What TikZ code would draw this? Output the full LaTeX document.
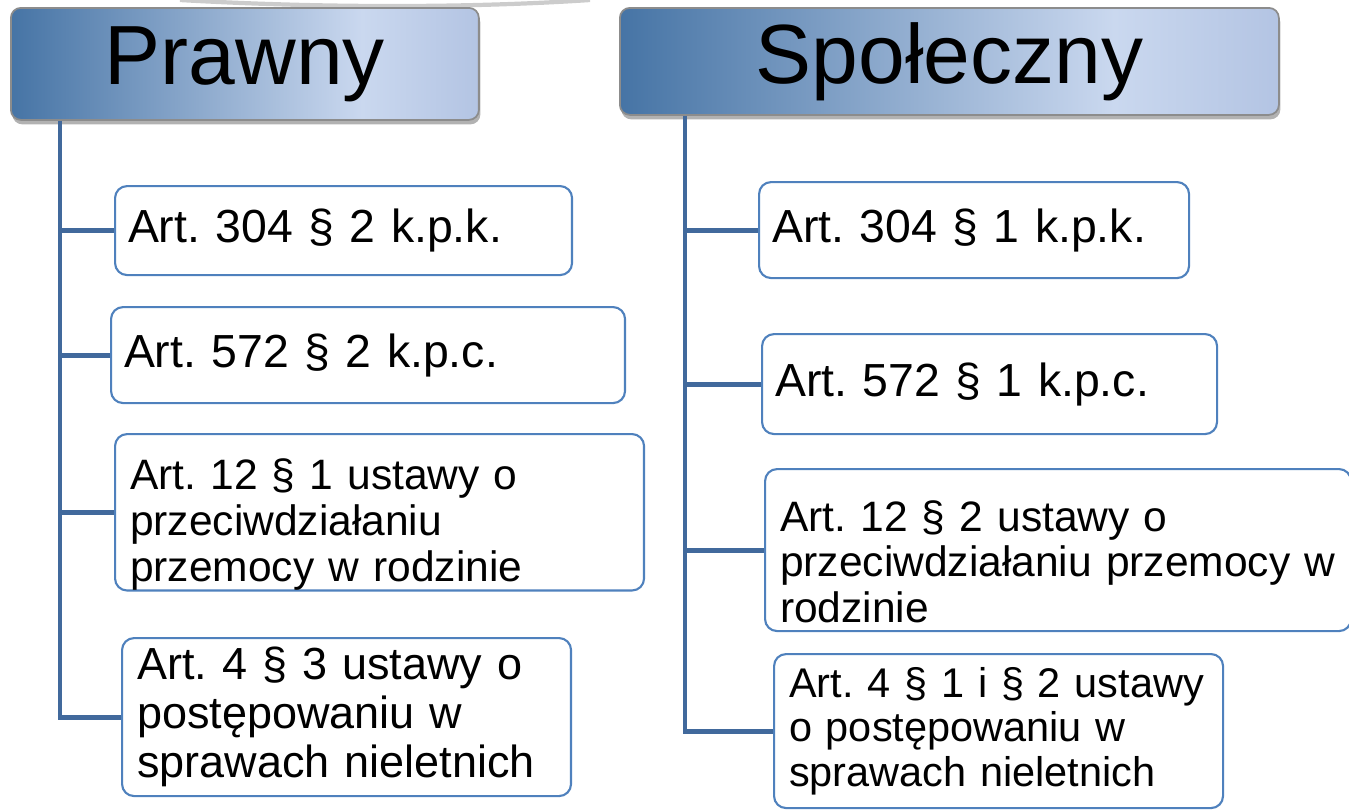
\documentclass[tikz,border=0pt]{standalone}
\usepackage{fontspec}
\setmainfont{Liberation Sans}
\frenchspacing
\usetikzlibrary{calc,positioning,shadows}
\definecolor{boxline}{HTML}{4F81BD}
\definecolor{trunkblue}{HTML}{41699C}
\definecolor{headdark}{HTML}{4674A5}
\definecolor{headlight}{HTML}{CAD8EF}
\definecolor{headright}{HTML}{B3C4E3}
\pgfdeclarehorizontalshading{headshade}{100bp}{color(0bp)=(headdark); color(25bp)=(headdark); color(62.5bp)=(headlight); color(75bp)=(headright); color(100bp)=(headright)}
\tikzset{
	header/.style={shade, shading=headshade, draw=black!45, line width=0.5pt,
		rounded corners=1mm, anchor=north west, inner sep=0pt,
		drop shadow={shadow xshift=0.15mm, shadow yshift=-0.45mm, opacity=0.3, fill=black},
		font=\fontsize{23.9}{28}\selectfont},
	entry/.style={draw=boxline, line width=0.6pt, rounded corners=1.2mm, fill=white,
		anchor=north west, align=left, inner xsep=1.3mm, inner ysep=0pt,
		font=\fontsize{13.2}{16}\selectfont},
	multi/.style={entry, inner xsep=1.5mm, font=\fontsize{12.1}{13.1}\selectfont},
	trunk/.style={draw=trunkblue, line width=1.4pt}
}
\begin{document}
\begin{tikzpicture}[x=0.1mm,y=-0.1mm]
			\useasboundingbox (0,0) rectangle (1349,809);
			\draw[black!20, line width=1.2pt] (180,0) .. controls (320,8) and (470,8) .. (590,0);
			% naglowki
			\node[header, minimum width=46.8mm, minimum height=11.2mm] (prawny) at (10,7) {Prawny};
			\node[header, minimum width=65.9mm, minimum height=10.7mm] (spoleczny) at (619,7) {Społeczny};
			% lewa kolumna
			\node[entry, text width=43.1mm, minimum height=8.9mm] (p1) at (114,185) {Art. 304 § 2 k.p.k.};
			\node[entry, text width=48.8mm, minimum height=9.6mm] (p2) at (110,306) {Art. 572 § 2 k.p.c.};
			\node[multi, text width=49.9mm, minimum height=15.3mm] (p3) at (114,433)
				{\rule{0pt}{15.8pt}Art. 12 § 1 ustawy o\\ przeciwdziałaniu\\ przemocy w rodzinie};
			\node[multi, font=\fontsize{12.8}{13.9}\selectfont, text width=41.9mm, minimum height=15.8mm] (p4) at (121,637)
				{Art. 4 § 3 ustawy o\\ postępowaniu w\\ sprawach nieletnich};
			% prawa kolumna
			\node[entry, text width=40.4mm, minimum height=9.6mm] (s1) at (758,181) {Art. 304 § 1 k.p.k.};
			\node[entry, text width=42.9mm, minimum height=10.0mm] (s2) at (761,333) {Art. 572 § 1 k.p.c.};
			\node[multi, font=\fontsize{12.1}{12.9}\selectfont, text width=55.6mm, minimum height=16.2mm] (s3) at (764,468)
				{\rule{0pt}{15.3pt}Art. 12 § 2 ustawy o\\ przeciwdziałaniu przemocy w\\ rodzinie};
			\node[multi, font=\fontsize{11.8}{12.6}\selectfont, inner xsep=1.5mm, text width=41.9mm, minimum height=15.4mm] (s4) at (773,653)
				{Art. 4 § 1 i § 2 ustawy\\ o postępowaniu w\\ sprawach nieletnich};
			% linie
			\coordinate (ptop) at ($(prawny.south west)+(50,0)$);
			\coordinate (stop) at ($(spoleczny.south west)+(66,0)$);
			\draw[trunk] (ptop) |- (p4.west);
			\draw[trunk] (stop) |- (s4.west);
			\foreach \n in {p1,p2,p3}
				\draw[trunk] (ptop |- \n.west) -- (\n.west);
			\foreach \n in {s1,s2,s3}
				\draw[trunk] (stop |- \n.west) -- (\n.west);
		\end{tikzpicture}
\end{document}
